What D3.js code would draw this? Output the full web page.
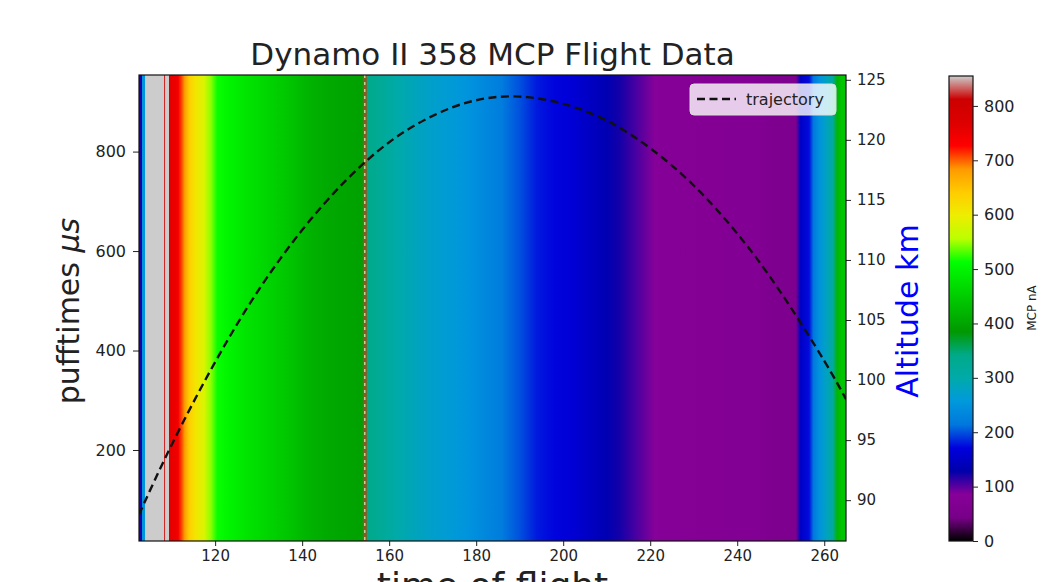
<!DOCTYPE html>
<html>
<head>
<meta charset="utf-8">
<script src="https://cdn.jsdelivr.net/npm/d3@7"></script>
<style>
  body { margin: 0; background: #fff; }
  text { font-family: "DejaVu Sans", sans-serif; fill: #222; }
</style>
</head>
<body>
<div id="chart"></div>
<script>
// MCP current along the flight (time of flight s -> nA)
var mcpTimes  = [102.5, 103.1, 103.3, 103.8, 104.0, 108.2, 108.4, 108.6, 109.3, 109.5, 109.7, 111.5,
                 112.2, 113.0, 114.0, 115.5, 117.5, 119.0, 120.5, 123, 127, 132, 137, 141, 146, 150, 153.8,
                 155, 158, 162, 166, 170, 174, 178, 182, 186, 190, 194, 198, 202, 206, 210, 213, 217,
                 221, 225, 235, 244, 247, 253.5, 254.5, 256.5, 257.5, 259, 260.5, 262, 263, 264, 265];
var mcpValues = [120, 120, 250, 250, 860, 860, 800, 860, 860, 800, 760, 740,
                 710, 680, 640, 610, 580, 545, 515, 500, 480, 460, 440, 420, 405, 400, 395,
                 340, 325, 300, 285, 272, 262, 250, 235, 220, 200, 180, 172, 165, 150, 135, 122, 104,
                 86, 78, 75, 72, 62, 58, 150, 175, 215, 250, 280, 320, 420, 440, 440];

// rocket trajectory (time s -> altitude km)
var trajTimes = [102.5, 110, 120, 130, 140, 150, 160, 170, 180, 190, 200, 210, 220, 230, 240, 250, 260, 265];
var trajAlt   = [88.8, 94.6, 101.5, 107.5, 112.5, 116.6, 119.8, 122.0, 123.3, 123.6, 123.0, 121.6,
                 119.3, 116.2, 112.2, 107.3, 101.6, 98.4];

var markerTime = 154.4;

var xTicks = [120, 140, 160, 180, 200, 220, 240, 260];
var pufTicks = [200, 400, 600, 800];
var altTicks = [90, 95, 100, 105, 110, 115, 120, 125];
var cbarTicks = [0, 100, 200, 300, 400, 500, 600, 700, 800];

var timeDomain = [102.5, 265];
var pufDomain = [17, 954];
var altDomain = [86.6, 125.4];
var mcpMax = 855;

// nipy_spectral colormap, 21 evenly spaced nodes
var cmR = [0, .4667, .5333, 0, 0, 0, 0, 0, 0, 0, 0, 0, 0, .7333, .9333, 1, 1, 1, .8667, .8, .8];
var cmG = [0, 0, 0, 0, 0, .4667, .6, .6667, .6667, .6, .7333, .8667, 1, 1, .9333, .8, .6, 0, 0, 0, .8];
var cmB = [0, .5333, .6, .6667, .8667, .8667, .8667, .6667, .5333, 0, 0, 0, 0, 0, 0, 0, 0, 0, 0, 0, .8];
function cmap(v) {
  var f = Math.max(0, Math.min(1, v / mcpMax)) * 20;
  var i = Math.min(19, Math.floor(f)), a = f - i;
  function ch(arr) { return Math.round(255 * (arr[i] + (arr[i + 1] - arr[i]) * a)); }
  return d3.rgb(ch(cmR), ch(cmG), ch(cmB)).formatHex();
}

var svgWidth = 1058, svgHeight = 582;
var plot = { left: 139, right: 846, top: 75, bottom: 541 };

var svg = d3.select("#chart").append("svg")
  .attr("width", svgWidth)
  .attr("height", svgHeight);

svg.append("rect").attr("width", svgWidth).attr("height", svgHeight).attr("fill", "#fff");

var x = d3.scaleLinear().domain(timeDomain).range([plot.left, plot.right]);
var yPuf = d3.scaleLinear().domain(pufDomain).range([plot.bottom, plot.top]);
var yAlt = d3.scaleLinear().domain(altDomain).range([plot.bottom, plot.top]);
var yBar = d3.scaleLinear().domain([0, mcpMax]).range([541, 76]);

var defs = svg.append("defs");

// heatmap columns as a horizontal gradient
var grad = defs.append("linearGradient").attr("id", "mcpGrad")
  .attr("gradientUnits", "userSpaceOnUse")
  .attr("x1", plot.left).attr("x2", plot.right).attr("y1", 0).attr("y2", 0);
grad.selectAll("stop")
  .data(mcpTimes)
  .enter().append("stop")
  .attr("offset", function(t) { return (x(t) - plot.left) / (plot.right - plot.left); })
  .attr("stop-color", function(t, i) { return cmap(mcpValues[i]); });

defs.append("clipPath").attr("id", "plotClip")
  .append("rect")
  .attr("x", plot.left).attr("y", plot.top)
  .attr("width", plot.right - plot.left).attr("height", plot.bottom - plot.top);

svg.append("rect")
  .attr("x", plot.left).attr("y", plot.top)
  .attr("width", plot.right - plot.left).attr("height", plot.bottom - plot.top)
  .attr("fill", "url(#mcpGrad)");

// marker line
svg.append("line")
  .attr("x1", x(markerTime)).attr("x2", x(markerTime))
  .attr("y1", plot.top).attr("y2", plot.bottom)
  .attr("stroke", "#8a5a22").attr("stroke-width", 4);
svg.append("line")
  .attr("x1", x(markerTime)).attr("x2", x(markerTime))
  .attr("y1", plot.top).attr("y2", plot.bottom)
  .attr("stroke", "#d8efb8").attr("stroke-width", 1.2)
  .attr("stroke-dasharray", "3,4");

// trajectory
var line = d3.line()
  .x(function(d, i) { return x(trajTimes[i]); })
  .y(function(d) { return yAlt(d); })
  .curve(d3.curveNatural);
svg.append("path")
  .datum(trajAlt)
  .attr("clip-path", "url(#plotClip)")
  .attr("d", line)
  .attr("fill", "none")
  .attr("stroke", "#111")
  .attr("stroke-width", 2.4)
  .attr("stroke-dasharray", "8,4.5");

// axes
var bottomAxis = svg.append("g")
  .attr("transform", "translate(0," + plot.bottom + ")")
  .call(d3.axisBottom(x).tickValues(xTicks).tickSize(5).tickPadding(4).tickSizeOuter(0));
var leftAxis = svg.append("g")
  .attr("transform", "translate(" + plot.left + ",0)")
  .call(d3.axisLeft(yPuf).tickValues(pufTicks).tickSize(6).tickPadding(7).tickSizeOuter(0));
var rightAxis = svg.append("g")
  .attr("transform", "translate(" + plot.right + ",0)")
  .call(d3.axisRight(yAlt).tickValues(altTicks).tickSize(5).tickPadding(6).tickSizeOuter(0));
[[bottomAxis, "15px"], [leftAxis, "16px"], [rightAxis, "15px"]].forEach(function(p) {
  var g = p[0];
  g.selectAll("text").style("font-size", p[1]).style("font-family", "DejaVu Sans").attr("fill", "#222");
  g.selectAll(".domain").remove();
  g.selectAll("line").attr("stroke", "#222");
});

svg.append("rect")
  .attr("x", plot.left).attr("y", plot.top)
  .attr("width", plot.right - plot.left).attr("height", plot.bottom - plot.top)
  .attr("fill", "none").attr("stroke", "#111").attr("stroke-width", 1.2);

// legend
var lg = svg.append("g");
lg.append("rect")
  .attr("x", 690).attr("y", 84).attr("width", 146).attr("height", 31).attr("rx", 4)
  .attr("fill", "#fff").attr("fill-opacity", 0.8)
  .attr("stroke", "#ddd");
lg.append("line")
  .attr("x1", 697).attr("x2", 736).attr("y1", 99).attr("y2", 99)
  .attr("stroke", "#111").attr("stroke-width", 2.4).attr("stroke-dasharray", "8,4.5");
lg.append("text").attr("x", 746).attr("y", 105).style("font-size", "16px").text("trajectory");

// colorbar
var cbX = 949, cbW = 24;
var cbGrad = defs.append("linearGradient").attr("id", "cbGrad")
  .attr("x1", 0).attr("x2", 0).attr("y1", 1).attr("y2", 0);
cbGrad.selectAll("stop")
  .data(d3.range(0, 41))
  .enter().append("stop")
  .attr("offset", function(d) { return d / 40; })
  .attr("stop-color", function(d) { return cmap(d / 40 * mcpMax); });
svg.append("rect")
  .attr("x", cbX).attr("y", yBar(mcpMax)).attr("width", cbW).attr("height", yBar(0) - yBar(mcpMax))
  .attr("fill", "url(#cbGrad)").attr("stroke", "#111").attr("stroke-width", 1.2);
var cbAxis = svg.append("g")
  .attr("transform", "translate(" + (cbX + cbW) + ",0)")
  .call(d3.axisRight(yBar).tickValues(cbarTicks).tickSize(5).tickPadding(6).tickSizeOuter(0));
cbAxis.selectAll(".domain").remove();
cbAxis.selectAll("text").style("font-size", "16px").style("font-family", "DejaVu Sans").attr("fill", "#222");
cbAxis.selectAll("line").attr("stroke", "#222");

svg.append("text")
  .attr("transform", "translate(1036,308) rotate(-90)")
  .attr("text-anchor", "middle").style("font-size", "12px")
  .text("MCP nA");

// titles and labels
svg.append("text")
  .attr("x", (plot.left + plot.right) / 2).attr("y", 65)
  .attr("text-anchor", "middle").style("font-size", "31px")
  .text("Dynamo II 358 MCP Flight Data");

var yl = svg.append("text")
  .attr("transform", "translate(79,311) rotate(-90)")
  .attr("text-anchor", "middle").style("font-size", "30px");
yl.append("tspan").text("pufftimes ");
yl.append("tspan").style("font-style", "italic").text("\u03bcs");

svg.append("text")
  .attr("transform", "translate(918,311) rotate(-90)")
  .attr("text-anchor", "middle").style("font-size", "30px")
  .style("fill", "#0000ff")
  .text("Altitude km");

svg.append("text")
  .attr("x", (plot.left + plot.right) / 2).attr("y", 598)
  .attr("text-anchor", "middle").style("font-size", "36px")
  .text("time of flight");
</script>
</body>
</html>
